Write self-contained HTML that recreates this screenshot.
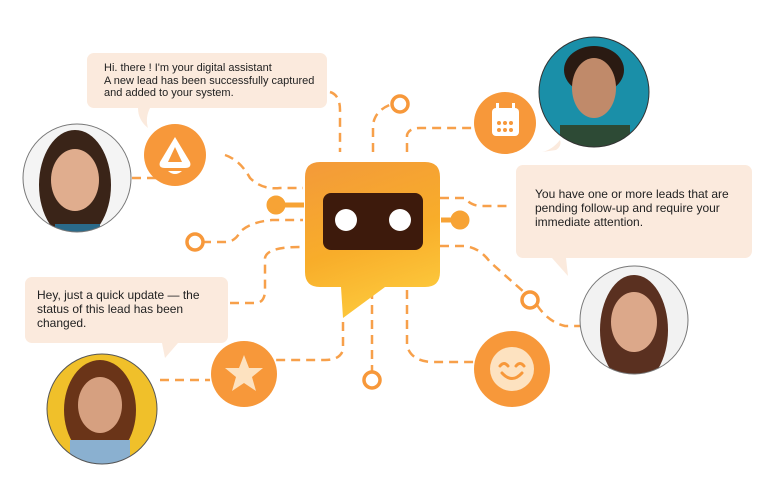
<!DOCTYPE html>
<html><head><meta charset="utf-8"><style>
html,body{margin:0;padding:0;background:#fff;}
svg{display:block;font-family:"Liberation Sans","DejaVu Sans",sans-serif;}
</style></head><body>
<svg width="760" height="481" viewBox="0 0 760 481" xmlns="http://www.w3.org/2000/svg">
<defs>
<linearGradient id="bot" x1="0" y1="0" x2="0.3" y2="1">
<stop offset="0" stop-color="#f39a3a"/><stop offset="0.6" stop-color="#f8ad2a"/><stop offset="1" stop-color="#fcc63a"/>
</linearGradient>
<clipPath id="c1"><circle cx="77" cy="178" r="54"/></clipPath>
<clipPath id="c2"><circle cx="594" cy="92" r="55"/></clipPath>
<clipPath id="c3"><circle cx="634" cy="320" r="54"/></clipPath>
<clipPath id="c4"><circle cx="102" cy="409" r="55"/></clipPath>
</defs>
<g fill="none" stroke="#f7a04a" stroke-width="2.5" stroke-dasharray="9,6">
<path d="M330 92 Q340 95 340 110 L340 152"/>
<path d="M373 152 L373 125 Q375 110 392 104"/>
<path d="M407 152 L407 135 Q409 128 420 128 L475 128"/>
<path d="M132 178 L160 178"/>
<path d="M225 155 Q240 160 250 178 Q262 190 280 188 L303 188"/>
<path d="M202 242 L225 242 Q235 242 240 232 Q250 222 272 220 L303 220"/>
<path d="M230 303 L255 303 Q265 303 265 290 L265 258 Q267 247 300 247"/>
<path d="M440 198 L465 198 Q470 205 480 206 L510 206"/>
<path d="M440 246 L465 246 Q480 248 490 262 L525 293"/>
<path d="M537 305 Q548 322 565 326 L580 326"/>
<path d="M343 322 L343 350 Q340 360 325 360 L275 360"/>
<path d="M372 290 L372 372"/>
<path d="M407 290 L407 345 Q410 360 430 362 L475 362"/>
<path d="M160 380 L210 380"/>
</g>
<!-- connectors -->
<g stroke="#f7a335" stroke-width="5" fill="#f7a335">
<line x1="278" y1="205" x2="304" y2="205"/><circle cx="276" cy="205" r="7"/>
<line x1="441" y1="220" x2="458" y2="220"/><circle cx="460" cy="220" r="7"/>
</g>
<!-- rings -->
<g fill="#fff" stroke="#f7983a" stroke-width="3.5">
<circle cx="400" cy="104" r="8"/><circle cx="195" cy="242" r="8"/><circle cx="530" cy="300" r="8"/><circle cx="372" cy="380" r="8"/>
</g>
<!-- bot -->
<path d="M320 162 H425 Q440 162 440 177 V272 Q440 287 425 287 H385 L343 318 L341 287 H320 Q305 287 305 272 V177 Q305 162 320 162Z" fill="url(#bot)"/>
<rect x="323" y="193" width="100" height="57" rx="8" fill="#3d1a0c"/>
<circle cx="346" cy="220" r="11" fill="#fff"/><circle cx="400" cy="220" r="11" fill="#fff"/>
<!-- icons -->
<circle cx="175" cy="155" r="31" fill="#f7983a"/>
<path d="M175 137 L160 162 Q158 168 165 168 H185 Q192 168 190 162 Z" fill="#fff"/><path d="M175 147 L168 162 H182Z" fill="#f7983a"/><path d="M168 171 H182 Q175 177 168 171Z" fill="#fff"/>
<circle cx="505" cy="123" r="31" fill="#f7983a"/>
<rect x="492" y="108" width="27" height="28" rx="4" fill="#fff"/><rect x="496" y="103" width="3" height="8" fill="#fff"/><rect x="512" y="103" width="3" height="8" fill="#fff"/>
<g fill="#f7983a"><circle cx="499" cy="123" r="2"/><circle cx="505" cy="123" r="2"/><circle cx="511" cy="123" r="2"/><circle cx="499" cy="130" r="2"/><circle cx="505" cy="130" r="2"/><circle cx="511" cy="130" r="2"/></g>
<circle cx="244" cy="374" r="33" fill="#f7983a"/>
<path d="M244 355 L249 368 L263 368 L252 377 L256 391 L244 383 L232 391 L236 377 L225 368 L239 368Z" fill="#fde2c0"/>
<circle cx="512" cy="369" r="38" fill="#f7983a"/>
<circle cx="512" cy="369" r="22" fill="#fde2c0"/>
<g fill="none" stroke="#f7983a" stroke-width="3" stroke-linecap="round"><path d="M500 366 Q504 361 508 366"/><path d="M516 366 Q520 361 524 366"/><path d="M502 373 Q512 384 522 373"/></g>
<!-- bubbles -->
<g fill="#fbeadd">
<rect x="87" y="53" width="240" height="55" rx="7"/><path d="M138 108 L150 108 Q145 118 148 128 Q138 120 138 108Z"/>
<rect x="516" y="165" width="236" height="93" rx="7"/><path d="M552 258 L566 258 L568 276Z"/>
<rect x="25" y="277" width="203" height="66" rx="7"/><path d="M162 343 L178 343 L165 358Z"/>
<path d="M560 140 Q552 150 542 152 L556 150 Q562 146 560 140Z"/>
</g>
<g fill="#222" font-size="11">
<text x="104" y="71">Hi. there ! I'm your digital assistant</text>
<text x="104" y="84">A new lead has been successfully captured</text>
<text x="104" y="96">and added to your system.</text>
</g>
<g fill="#222" font-size="12">
<text x="535" y="198">You have one or more leads that are</text>
<text x="535" y="212">pending follow-up and require your</text>
<text x="535" y="226">immediate attention.</text>
<text x="37" y="299">Hey, just a quick update — the</text>
<text x="37" y="313">status of this lead has been</text>
<text x="37" y="327">changed.</text>
</g>
<!-- avatars -->
<g clip-path="url(#c1)"><rect x="20" y="120" width="120" height="120" fill="#f4f4f4"/><ellipse cx="75" cy="185" rx="36" ry="55" fill="#3a2418"/><ellipse cx="75" cy="180" rx="24" ry="31" fill="#e0ad8e"/><rect x="55" y="224" width="45" height="20" fill="#2a6a8a"/></g>
<circle cx="77" cy="178" r="54" fill="none" stroke="#777" stroke-width="1"/>
<g clip-path="url(#c2)"><rect x="535" y="35" width="120" height="120" fill="#1a8fa8"/><ellipse cx="594" cy="70" rx="30" ry="24" fill="#2a1a12"/><ellipse cx="594" cy="88" rx="22" ry="30" fill="#c08a6a"/><rect x="560" y="125" width="70" height="30" fill="#2d4a35"/></g>
<circle cx="594" cy="92" r="55" fill="none" stroke="#333" stroke-width="1"/>
<g clip-path="url(#c3)"><rect x="575" y="262" width="120" height="120" fill="#f2f2f2"/><ellipse cx="634" cy="330" rx="34" ry="55" fill="#5a3020"/><ellipse cx="634" cy="322" rx="23" ry="30" fill="#dca88a"/></g>
<circle cx="634" cy="320" r="54" fill="none" stroke="#777" stroke-width="1"/>
<g clip-path="url(#c4)"><rect x="45" y="352" width="120" height="120" fill="#f0c02a"/><ellipse cx="100" cy="410" rx="36" ry="50" fill="#6a3418"/><ellipse cx="100" cy="405" rx="22" ry="28" fill="#d6a080"/><rect x="70" y="440" width="60" height="30" fill="#8ab0d0"/></g>
<circle cx="102" cy="409" r="55" fill="none" stroke="#555" stroke-width="1"/>
</svg>
</body></html>
